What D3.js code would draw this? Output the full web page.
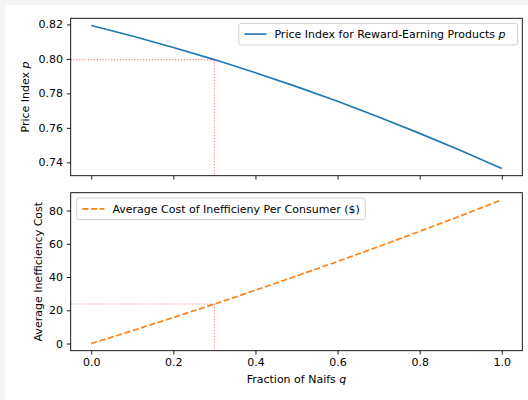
<!DOCTYPE html>
<html>
<head>
<meta charset="utf-8">
<script src="https://cdn.jsdelivr.net/npm/d3@7"></script>
<style>
  html, body { margin: 0; padding: 0; background: #f5f5f5; }
  svg { display: block; }
  text { font-family: "DejaVu Sans", sans-serif; fill: #000; }
</style>
</head>
<body>
<svg id="chart" width="528" height="400"></svg>
<script>
// Fraction of naive consumers q
const fractions = [0, 0.1, 0.2, 0.3, 0.4, 0.5, 0.6, 0.7, 0.8, 0.9, 1.0];
// Price index for reward-earning products p(q)
const priceIndex = [0.8194, 0.8133, 0.8066, 0.7996, 0.7920, 0.7839, 0.7754, 0.7663, 0.7568, 0.7469, 0.7364];
// Average cost of inefficiency per consumer ($)
const avgCost = [0, 7.70, 15.62, 23.74, 32.06, 40.6, 49.34, 58.3, 67.46, 76.82, 86.4];

// Highlighted point
const markQ = 0.3;
const markP = 0.7996;
const markCost = 23.74;

const xTicks = [0, 0.2, 0.4, 0.6, 0.8, 1.0];
const pTicks = [0.74, 0.76, 0.78, 0.80, 0.82];
const costTicks = [0, 20, 40, 60, 80];

const priceLabel = "Price Index for Reward-Earning Products ";
const costLabel = "Average Cost of Inefficieny Per Consumer ($)";

const FS = 11;

const svg = d3.select("#chart");
svg.append("rect").attr("x", 5).attr("y", 5).attr("width", 523).attr("height", 395).attr("fill", "#fff");

const left = 70.7, right = 522.3;
const top1 = 18.3, bot1 = 175.7;
const top2 = 192.7, bot2 = 350.7;

function padded(lo, hi) { const m = (hi - lo) * 0.05; return [lo - m, hi + m]; }

const x = d3.scaleLinear().domain(padded(0, 1)).range([left, right]);
const y1 = d3.scaleLinear().domain(padded(d3.min(priceIndex), d3.max(priceIndex))).range([bot1, top1]);
const y2 = d3.scaleLinear().domain(padded(d3.min(avgCost), d3.max(avgCost))).range([bot2, top2]);

function drawAxes(yScale, top, bot, yTicks, yFmt, showXLabels) {
  const gx = svg.append("g").attr("transform", `translate(0,${bot})`)
    .call(d3.axisBottom(x).tickValues(xTicks).tickSize(3.85).tickPadding(3.85)
      .tickFormat(showXLabels ? d3.format(".1f") : () => ""));
  const gy = svg.append("g").attr("transform", `translate(${left},0)`)
    .call(d3.axisLeft(yScale).tickValues(yTicks).tickSize(3.85).tickPadding(3.85).tickFormat(yFmt));
  [gx, gy].forEach(g => {
    g.select(".domain").remove();
    g.selectAll(".tick line").attr("stroke", "#000").attr("stroke-width", 0.9);
    g.selectAll(".tick text").attr("font-size", FS).attr("fill", "#000")
      .attr("font-family", "DejaVu Sans, sans-serif");
  });
  gx.selectAll(".tick text").attr("dy", "0.71em");
  return { gx, gy };
}

function frame(top, bot) {
  svg.append("rect").attr("x", left).attr("y", top).attr("width", right - left).attr("height", bot - top)
    .attr("fill", "none").attr("stroke", "#000").attr("stroke-width", 0.9);
}

const markStyle = sel => sel.attr("stroke", "red").attr("stroke-opacity", 0.5)
  .attr("stroke-width", 1.1).attr("stroke-dasharray", "1.1,1.8");

// Top panel: price index
drawAxes(y1, top1, bot1, pTicks, d3.format(".2f"), false);
const lineP = d3.line().x((d, i) => x(fractions[i])).y(d => y1(d));
svg.append("path").datum(priceIndex).attr("d", lineP).attr("fill", "none")
  .attr("stroke", "#1f77b4").attr("stroke-width", 1.65);
svg.append("line").attr("x1", left).attr("x2", x(markQ)).attr("y1", y1(markP)).attr("y2", y1(markP)).call(markStyle);
svg.append("line").attr("x1", x(markQ)).attr("x2", x(markQ)).attr("y1", y1(markP)).attr("y2", bot1).call(markStyle);
frame(top1, bot1);

// Bottom panel: inefficiency cost
drawAxes(y2, top2, bot2, costTicks, d3.format("d"), true);
const lineC = d3.line().x((d, i) => x(fractions[i])).y(d => y2(d));
svg.append("path").datum(avgCost).attr("d", lineC).attr("fill", "none")
  .attr("stroke", "#ff7f0e").attr("stroke-width", 1.65).attr("stroke-dasharray", "6.1,2.6");
svg.append("line").attr("x1", left).attr("x2", x(markQ)).attr("y1", y2(markCost)).attr("y2", y2(markCost)).call(markStyle);
svg.append("line").attr("x1", x(markQ)).attr("x2", x(markQ)).attr("y1", y2(markCost)).attr("y2", bot2).call(markStyle);
frame(top2, bot2);

// Axis titles
const ylab1 = svg.append("text").attr("transform", `translate(25,${(top1 + bot1) / 2}) rotate(-90)`)
  .attr("text-anchor", "middle").attr("dominant-baseline", "central").attr("font-size", FS);
ylab1.append("tspan").text("Price Index ");
ylab1.append("tspan").attr("font-style", "italic").text("p");

svg.append("text").attr("transform", `translate(38.3,${(top2 + bot2) / 2}) rotate(-90)`)
  .attr("text-anchor", "middle").attr("dominant-baseline", "central").attr("font-size", FS)
  .text("Average Inefficiency Cost");

const xlab = svg.append("text").attr("x", (left + right) / 2).attr("y", 379)
  .attr("text-anchor", "middle").attr("dominant-baseline", "central").attr("font-size", FS);
xlab.append("tspan").text("Fraction of Naifs ");
xlab.append("tspan").attr("font-style", "italic").text("q");

// Legends: box sized to its text
function legend(anchorX, alignRight, y0, drawSwatch, label, italicSuffix) {
  const g = svg.append("g");
  const box = g.append("rect").attr("height", 21.7).attr("rx", 2.5)
    .attr("fill", "#fff").attr("fill-opacity", 0.8).attr("stroke", "#ccc").attr("stroke-width", 0.9);
  drawSwatch(g.append("line").attr("x1", 5.7).attr("x2", 27.7).attr("y1", 10.8).attr("y2", 10.8));
  const t = g.append("text").attr("x", 35.7).attr("y", 10.8).attr("dominant-baseline", "central").attr("font-size", FS);
  t.append("tspan").text(label);
  if (italicSuffix) t.append("tspan").attr("font-style", "italic").text(italicSuffix);
  const w = 35.7 + t.node().getComputedTextLength() + (italicSuffix ? 12 : 5.5);
  box.attr("width", w);
  const x0 = alignRight ? anchorX - w : anchorX;
  g.attr("transform", `translate(${x0},${y0})`);
}
legend(right - 4.7, true, 23.3, l => l.attr("stroke", "#1f77b4").attr("stroke-width", 1.65), priceLabel, "p");
legend(left + 6, false, 198, l => l.attr("stroke", "#ff7f0e").attr("stroke-width", 1.65).attr("stroke-dasharray", "6.1,2.6"), costLabel, null);
</script>
</body>
</html>
